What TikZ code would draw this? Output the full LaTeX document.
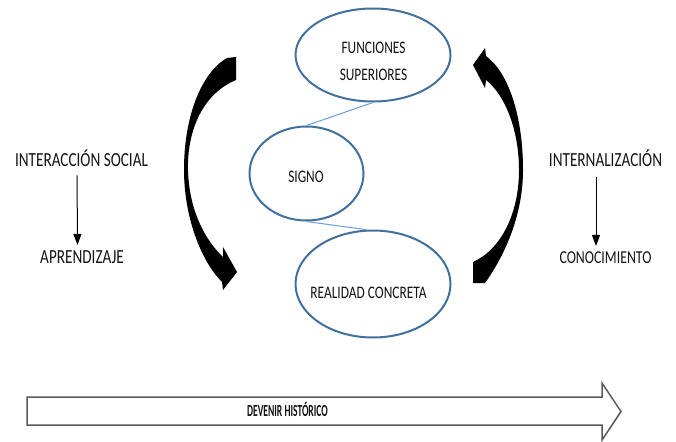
\documentclass[tikz,border=0pt]{standalone}
\usepackage{fontspec}
\setmainfont{Carlito}[FakeStretch=0.76]
\usepackage{graphicx}
\usetikzlibrary{shapes.geometric,arrows.meta}

\definecolor{ovalblue}{HTML}{41719C}
\definecolor{linkblue}{HTML}{6A9FD8}
\definecolor{ink}{HTML}{141414}
\definecolor{barline}{HTML}{5A5A5A}

\tikzset{
  oval/.style={ellipse, draw=ovalblue, line width=2pt, inner sep=0pt},
  sidelabel/.style={inner sep=0pt, text=ink, font=\fontsize{20}{24}\selectfont},
  ovallabel/.style={inner sep=0pt, text=ink, align=center, font=\fontsize{17.6}{27}\selectfont},
  link/.style={draw=linkblue, line width=1pt},
  smallarrow/.style={draw=black, line width=1pt, -{Triangle[width=8pt,length=11pt]}},
  bentarrow/.style={fill=black, draw=none},
  timeline/.style={draw=barline, line width=1.5pt, fill=white, line join=miter}
}

\begin{document}
\begin{tikzpicture}[x=1pt, y=-1pt]
  \useasboundingbox[fill=white] (0,0) rectangle (676,441);

  % central chain of ovals
  \node[oval, minimum width=155pt, minimum height=93pt]  (fs) at (373,55)    {};
  \node[oval, minimum width=114pt, minimum height=94pt]  (sg) at (306.5,173.5) {};
  \node[oval, minimum width=155pt, minimum height=107pt] (rc) at (373,284)   {};

  \node[ovallabel] (fstext) at (373.5,61) {FUNCIONES\\SUPERIORES};
  \node[ovallabel, anchor=base] (sgtext) at (306,182) {SIGNO};
  \node[ovallabel, anchor=base] (rctext) at (368.5,298) {REALIDAD CONCRETA};

  \draw[link] (fs.south) -- (sg.north);
  \draw[link] (sg.south) -- (rc.97);

  % left bent arrow, pointing down
  \fill[bentarrow]
    (227,58) -- (236,57) -- (236,80)
    .. controls (200,95) and (187,135) .. (188,170)
    .. controls (189,210) and (205,240) .. (223,257)
    -- (223,247) -- (237,272) -- (223,290) -- (222,282)
    .. controls (200,260) and (184,215) .. (184,170)
    .. controls (184,110) and (205,70) .. (227,58) -- cycle;

  % right bent arrow, pointing up
  \fill[bentarrow]
    (473,262) -- (473,283) -- (485,283)
    .. controls (505,255) and (523,215) .. (523,170)
    .. controls (523,115) and (508,72) .. (486,56)
    -- (485,48) -- (473,65) -- (485,88) -- (486,80)
    .. controls (505,95) and (519,130) .. (519,170)
    .. controls (519,215) and (500,250) .. (473,262) -- cycle;

  % side labels
  \node[sidelabel, anchor=base] (soc) at (81.5,166) {INTERACCIÓN SOCIAL};
  \node[sidelabel, anchor=base] (apr) at (82,263)   {APRENDIZAJE};
  \node[sidelabel, anchor=base] (int) at (605.5,166) {INTERNALIZACIÓN};
  \node[sidelabel, anchor=base, font=\fontsize{18.2}{22}\selectfont] (con) at (605.5,263) {CONOCIMIENTO};

  \draw[smallarrow, shorten <=9pt, shorten >=5pt] ([xshift=-4.5pt]soc.south) -- ([xshift=-4.5pt]apr.north);
  \draw[smallarrow, shorten <=11pt, shorten >=5pt] ([xshift=-9.5pt]int.south) -- ([xshift=-9.5pt]con.north);

  % timeline arrow
  \draw[timeline] (27,397) -- (602,397) -- (602,383) -- (621,411.5)
    -- (602,440) -- (602,425) -- (27,425) -- cycle;
  \node[inner sep=0pt, text=ink, anchor=base, font=\bfseries\fontsize{17}{20}\selectfont] (dev) at (287.5,416)
    {\scalebox{0.74}[1]{DEVENIR HISTÓRICO}};
\end{tikzpicture}
\end{document}
